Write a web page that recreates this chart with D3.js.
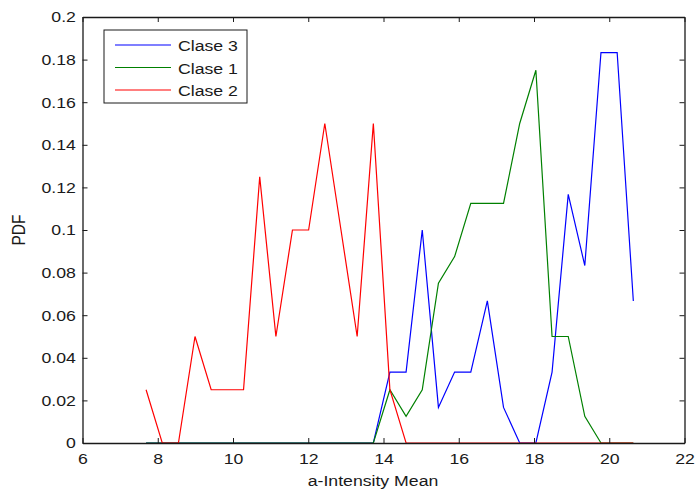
<!DOCTYPE html>
<html>
<head>
<meta charset="utf-8">
<script src="https://cdn.jsdelivr.net/npm/d3@7"></script>
<style>
  body { margin: 0; background: #fff; }
  svg text { font-family: "Liberation Sans", Arial, sans-serif; fill: #1a1a1a; }
</style>
</head>
<body>
<svg id="chart" width="695" height="489"></svg>
<script>
// bin centres (a-Intensity Mean)
var binX = [7.69, 8.12, 8.55, 8.99, 9.42, 9.85, 10.28, 10.71, 11.14, 11.58, 12.01,
            12.44, 12.87, 13.30, 13.73, 14.17, 14.60, 15.03, 15.46, 15.89, 16.32,
            16.76, 17.19, 17.62, 18.05, 18.48, 18.91, 19.35, 19.78, 20.21, 20.64];

var clase3 = [0, 0, 0, 0, 0, 0, 0, 0, 0, 0, 0, 0, 0, 0, 0,
              0.0333, 0.0333, 0.1, 0.0167, 0.0333, 0.0333, 0.0667, 0.0167, 0, 0,
              0.0333, 0.1167, 0.0833, 0.1833, 0.1833, 0.0667];
var clase1 = [0, 0, 0, 0, 0, 0, 0, 0, 0, 0, 0, 0, 0, 0, 0,
              0.025, 0.0125, 0.025, 0.075, 0.0875, 0.1125, 0.1125, 0.1125, 0.15, 0.175,
              0.05, 0.05, 0.0125, 0, 0, 0];
var clase2 = [0.025, 0, 0, 0.05, 0.025, 0.025, 0.025, 0.125, 0.05, 0.1, 0.1,
              0.15, 0.1, 0.05, 0.15, 0.025, 0, 0, 0, 0, 0, 0, 0, 0, 0, 0, 0, 0, 0, 0, 0];

var xTicks = [6, 8, 10, 12, 14, 16, 18, 20, 22];
var yTicks = [0, 0.02, 0.04, 0.06, 0.08, 0.1, 0.12, 0.14, 0.16, 0.18, 0.2];

var seriesNames = ["Clase 3", "Clase 1", "Clase 2"];
var seriesColors = ["#0000ff", "#008000", "#ff0000"];
var seriesData = [clase3, clase1, clase2];

var pLeft = 82.5, pRight = 684.5, pTop = 17, pBottom = 443;
var fs = 15.5, sx = 1.14;   // text is a bit wide in the original
var svg = d3.select("#chart");

var x = d3.scaleLinear().domain([6, 22]).range([pLeft, pRight]);
var y = d3.scaleLinear().domain([0, 0.2]).range([pBottom, pTop]);

var line = d3.line()
    .x(function(d){ return x(d[0]); })
    .y(function(d){ return y(d[1]); });

// series
seriesData.forEach(function(vals, i){
    svg.append("path")
	.datum(binX.map(function(v, j){ return [v, vals[j]]; }))
	.attr("d", line)
	.attr("fill", "none")
	.attr("stroke", seriesColors[i])
	.attr("stroke-width", 1.2);
});

// axes (ticks inward, on all sides, like a boxed plot)
var tl = 5;
svg.append("g").attr("transform", "translate(0," + pBottom + ")")
    .call(d3.axisBottom(x).tickValues(xTicks).tickSizeInner(-tl).tickSizeOuter(0).tickPadding(10.5));
svg.append("g").attr("transform", "translate(0," + pTop + ")")
    .call(d3.axisTop(x).tickValues(xTicks).tickSizeInner(-tl).tickSizeOuter(0).tickFormat(""));
svg.append("g").attr("transform", "translate(" + pLeft + ",0)")
    .call(d3.axisLeft(y).tickValues(yTicks).tickSizeInner(-tl).tickSizeOuter(0).tickPadding(5.8)
	  .tickFormat(function(d){ return String(+d.toFixed(2)); }));
svg.append("g").attr("transform", "translate(" + pRight + ",0)")
    .call(d3.axisRight(y).tickValues(yTicks).tickSizeInner(-tl).tickSizeOuter(0).tickFormat(""));

svg.selectAll(".domain").attr("stroke", "#1a1a1a").attr("stroke-width", 1.3);
svg.selectAll(".tick line").attr("stroke", "#1a1a1a");
svg.selectAll(".tick text")
    .attr("font-size", fs).attr("fill", "#1a1a1a")
    .attr("transform", "scale(" + sx + ",1)");

// axis titles
svg.append("g").attr("transform", "translate(373,485.5) scale(" + sx + ",1)")
  .append("text")
    .attr("text-anchor", "middle").attr("font-size", fs)
    .text("a-Intensity Mean");
svg.append("g").attr("transform", "translate(25,230) scale(" + sx + ",1) rotate(-90)")
  .append("text")
    .attr("text-anchor", "middle").attr("font-size", fs)
    .text("PDF");

// legend
var lg = svg.append("g");
lg.append("rect")
    .attr("x", 104).attr("y", 30).attr("width", 143).attr("height", 73)
    .attr("fill", "#fff").attr("stroke", "#1a1a1a").attr("stroke-width", 1);
seriesNames.forEach(function(name, i){
    var yy = 45 + i * 22.5;
    lg.append("line")
	.attr("x1", 115).attr("x2", 171).attr("y1", yy).attr("y2", yy)
	.attr("stroke", seriesColors[i]).attr("stroke-width", 1.2);
    lg.append("g").attr("transform", "translate(178," + (yy + 6) + ") scale(" + sx + ",1)")
      .append("text")
	.attr("font-size", fs)
	.text(name);
});
</script>
</body>
</html>
